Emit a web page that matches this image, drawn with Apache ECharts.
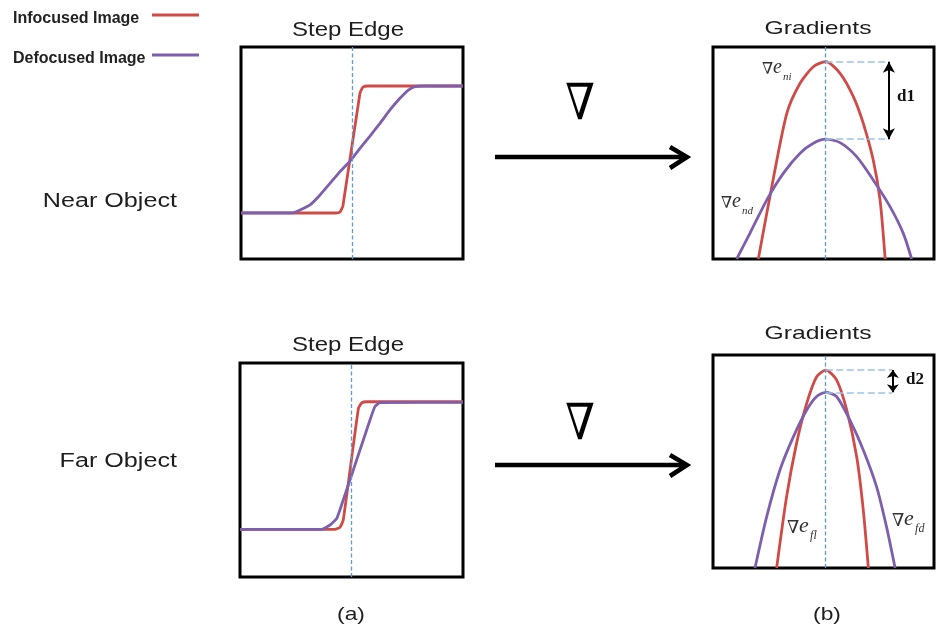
<!DOCTYPE html>
<html>
<head>
<meta charset="utf-8">
<title>Step edge and gradient profiles</title>
<script src="https://cdn.jsdelivr.net/npm/echarts@6/dist/echarts.min.js"></script>
<style>
  html, body { margin: 0; padding: 0; background: #fff; }
  #chart { width: 936px; height: 631px; }
</style>
</head>
<body>
<div id="chart"></div>
<script>
// ---- data -------------------------------------------------------------
const seriesNames = ['Infocused Image', 'Defocused Image'];
const rowLabels = ['Near Object', 'Far Object'];
const panelTitles = ['Step Edge', 'Gradients'];
const captions = ['(a)', '(b)'];
const diffLabels = ['d1', 'd2'];
const gradientSubscripts = [['ni', 'nd'], ['fl', 'fd']];

// edge position (x) on the step-edge and gradient panels
const edgeCenter = 50;
const gradCenter = 51;

// step-edge intensity profiles [position, intensity]
const nearStepInfocused = [[0, 21.7], [42.8, 21.7], [44.6, 22.2], [45.9, 25.0], [53.6, 78.3], [55.0, 81.1], [57.2, 81.6], [100, 81.6]];
const nearStepDefocused = [[0, 21.8], [23.4, 21.8], [26.6, 23.1], [31.1, 25.5], [35.6, 30.2], [40.1, 35.7], [44.6, 41.2], [49.1, 46.2], [53.6, 52.2], [58.1, 58.0], [62.6, 64.0], [67.1, 70.3], [71.6, 75.8], [75.4, 79.7], [78.4, 81.3], [82.0, 81.6], [100, 81.6]];
const farStepInfocused = [[0, 22.3], [42.6, 22.3], [44.8, 23.2], [46.3, 26.6], [53.1, 78.8], [54.6, 81.4], [56.9, 81.9], [100, 81.9]];
const farStepDefocused = [[0, 22.3], [36.6, 22.3], [40.4, 24.3], [43.4, 27.4], [46.3, 36.0], [49.3, 45.3], [52.3, 54.7], [55.3, 64.0], [58.3, 73.4], [60.5, 79.6], [62.8, 81.5], [100, 81.6]];

// gradient magnitude profiles [position, gradient]
const nearGradInfocused = [[20.5, 0], [26.6, 34.1], [33.4, 68.7], [39.4, 82.9], [45.4, 90.7], [51.0, 93.1], [57.5, 87.6], [63.5, 76.6], [68.0, 64.0], [72.5, 46.7], [75.6, 27.8], [77.9, 0]];
const nearGradDefocused = [[10.7, 0], [16.7, 12.1], [24.3, 27.8], [31.8, 40.4], [39.4, 49.9], [45.4, 54.6], [51.0, 56.5], [57.5, 54.9], [65.0, 48.3], [72.5, 37.3], [80.1, 24.7], [86.1, 12.1], [89.9, 0]];
const farGradInfocused = [[28.8, 0], [33.3, 33.5], [37.8, 58.5], [42.4, 77.3], [46.9, 89.8], [51.0, 92.9], [55.9, 88.3], [60.5, 74.2], [65.0, 52.3], [68.0, 27.2], [70.3, 0]];
const farGradDefocused = [[19.0, 0], [24.3, 24.1], [30.3, 46.0], [36.4, 61.7], [42.4, 74.2], [46.9, 80.5], [51.0, 82.5], [55.9, 80.5], [61.9, 69.5], [68.0, 55.4], [74.0, 38.2], [78.5, 19.4], [82.4, 0]];

// where the peak-difference bracket sits on each gradient panel
const bracketX = [79.6, 81.4];

// ---- styling ----------------------------------------------------------
const RED = '#d04a46';
const PURPLE = '#7e5fae';
const EDGE_BLUE = '#5b9bd5';
const GUIDE_BLUE = '#9dc3e6';
const TEXT = '#1e1e1e';

const grids = [
  { left: 241, top: 47, width: 222, height: 212 },   // near, step edge
  { left: 713, top: 47, width: 221, height: 212 },   // near, gradients
  { left: 240, top: 363, width: 223, height: 214 },  // far, step edge
  { left: 713, top: 355, width: 221, height: 213 }   // far, gradients
].map(g => Object.assign({ show: true, borderColor: '#000', borderWidth: 3, backgroundColor: '#fff' }, g));

const hiddenAxis = (gridIndex) => ({
  type: 'value', gridIndex, min: 0, max: 100, show: false,
  axisLine: { show: false }, axisTick: { show: false }, axisLabel: { show: false }, splitLine: { show: false }
});

const peak = (arr) => Math.max.apply(null, arr.map(p => p[1]));

function curve(name, data, gridIndex, color, smooth, extra) {
  return Object.assign({
    type: 'line', name, data,
    xAxisIndex: gridIndex, yAxisIndex: gridIndex,
    symbol: 'none', smooth,
    lineStyle: { color, width: 2.8 }, itemStyle: { color },
    silent: true, animation: false
  }, extra || {});
}

const centerLine = (x) => ({
  silent: true, symbol: ['none', 'none'], label: { show: false },
  lineStyle: { color: EDGE_BLUE, type: [4, 2.5], width: 1.3 },
  data: [{ xAxis: x }]
});

function guideLines(redArr, purpleArr, endX) {
  const hi = peak(redArr), lo = peak(purpleArr);
  const dash = { color: GUIDE_BLUE, type: [7, 3.5], width: 1.5 };
  return {
    silent: true, symbol: ['none', 'none'], label: { show: false },
    lineStyle: { color: EDGE_BLUE, type: [4, 2.5], width: 1.3 },
    data: [
      { xAxis: gradCenter },
      [{ coord: [gradCenter, hi], lineStyle: dash }, { coord: [endX, hi], lineStyle: dash }],
      [{ coord: [gradCenter, lo], lineStyle: dash }, { coord: [endX, lo], lineStyle: dash }]
    ]
  };
}

function bracket(redArr, purpleArr, x, size) {
  return {
    silent: true, symbol: ['arrow', 'arrow'], symbolSize: size, label: { show: false },
    lineStyle: { color: '#000', type: 'solid', width: 2 },
    data: [[{ coord: [x, peak(redArr)] }, { coord: [x, peak(purpleArr)] }]]
  };
}

const STEP_SMOOTH = 0.15;
const GRAD_SMOOTH = 0.25;

const series = [
  curve(seriesNames[0], nearStepInfocused, 0, RED, STEP_SMOOTH, { markLine: centerLine(edgeCenter) }),
  curve(seriesNames[1], nearStepDefocused, 0, PURPLE, STEP_SMOOTH),
  curve(seriesNames[0], nearGradInfocused, 1, RED, GRAD_SMOOTH, { markLine: guideLines(nearGradInfocused, nearGradDefocused, bracketX[0]) }),
  curve(seriesNames[1], nearGradDefocused, 1, PURPLE, GRAD_SMOOTH, { markLine: bracket(nearGradInfocused, nearGradDefocused, bracketX[0], [9, 11]) }),
  curve(seriesNames[0], farStepInfocused, 2, RED, STEP_SMOOTH, { markLine: centerLine(edgeCenter) }),
  curve(seriesNames[1], farStepDefocused, 2, PURPLE, STEP_SMOOTH),
  curve(seriesNames[0], farGradInfocused, 3, RED, GRAD_SMOOTH, { markLine: guideLines(farGradInfocused, farGradDefocused, bracketX[1] - 0.4) }),
  curve(seriesNames[1], farGradDefocused, 3, PURPLE, GRAD_SMOOTH, { markLine: bracket(farGradInfocused, farGradDefocused, bracketX[1], [9, 8]) })
];

// ---- text and arrows ----------------------------------------------------
function label(text, x, y, opts) {
  const o = opts || {};
  return {
    type: 'text', x, y, scaleX: o.scaleX || 1, silent: true,
    style: {
      text, fill: o.color || TEXT,
      font: (o.weight || 'normal') + ' ' + (o.size || 19) + 'px ' + (o.family || '"Liberation Sans", Arial, sans-serif'),
      align: o.align || 'center', verticalAlign: 'middle'
    }
  };
}

function gradientArrow(y) {
  const x0 = 495, x1 = 687;
  return {
    type: 'group', silent: true,
    children: [
      { type: 'line', shape: { x1: x0, y1: y, x2: x1 - 2, y2: y }, style: { stroke: '#000', lineWidth: 4.5 } },
      { type: 'polyline', shape: { points: [[x1 - 17, y - 10], [x1, y], [x1 - 17, y + 11]] },
        style: { stroke: '#000', fill: null, lineWidth: 4.5, lineJoin: 'miter' } }
    ]
  };
}

function gradSymbol(x, y, sub, s) {
  const k = s || 1;
  return {
    type: 'group', x, y, scaleX: k, scaleY: k, silent: true,
    children: [
      { type: 'text', x: 0, y: 0, style: { text: '∇', font: '16px "DejaVu Serif", serif', fill: '#333', align: 'left', verticalAlign: 'middle' } },
      { type: 'text', x: 11, y: -2, style: { text: 'e', font: 'italic 20px "Liberation Serif", serif', fill: '#333', align: 'left', verticalAlign: 'middle' } },
      { type: 'text', x: 21, y: 7, style: { text: sub, font: 'italic 11px "Liberation Serif", serif', fill: '#333', align: 'left', verticalAlign: 'middle' } }
    ]
  };
}

const graphic = [
  label(panelTitles[0], 348, 30, { size: 20, scaleX: 1.2 }),
  label(panelTitles[1], 818, 29, { size: 19, scaleX: 1.3 }),
  label(panelTitles[0], 348, 345, { size: 20, scaleX: 1.2 }),
  label(panelTitles[1], 818, 334, { size: 19, scaleX: 1.3 }),
  label(rowLabels[0], 177, 202, { size: 19.5, scaleX: 1.29, align: 'right' }),
  label(rowLabels[1], 177, 462, { size: 19.5, scaleX: 1.29, align: 'right' }),
  label(captions[0], 351, 615, { size: 19, scaleX: 1.2 }),
  label(captions[1], 827, 615, { size: 19, scaleX: 1.2 }),
  label('∇', 580, 106, { size: 50, scaleX: 0.85, family: '"DejaVu Serif", serif', color: '#000' }),
  label('∇', 580, 426, { size: 50, scaleX: 0.85, family: '"DejaVu Serif", serif', color: '#000' }),
  gradientArrow(157),
  gradientArrow(465),
  label(diffLabels[0], 897, 97, { size: 17, weight: 'bold', family: '"Liberation Serif", serif', align: 'left', color: '#111' }),
  label(diffLabels[1], 906, 380, { size: 17, weight: 'bold', family: '"Liberation Serif", serif', align: 'left', color: '#111' }),
  gradSymbol(762, 70, gradientSubscripts[0][0]),
  gradSymbol(721, 204, gradientSubscripts[0][1]),
  gradSymbol(787, 528, gradientSubscripts[1][0], 1.1),
  gradSymbol(892, 521, gradientSubscripts[1][1], 1.1)
];

const chart = echarts.init(document.getElementById('chart'), null, { renderer: 'canvas' });
chart.setOption({
  backgroundColor: '#fff',
  animation: false,
  legend: {
    orient: 'vertical', left: 8, top: 6, align: 'right',
    icon: 'rect', itemWidth: 47, itemHeight: 3, itemGap: 24, selectedMode: false,
    data: seriesNames,
    formatter: (n) => '{t|' + n + '}',
    textStyle: {
      rich: {
        t: { width: 134, align: 'left', fontFamily: '"Liberation Sans", Arial, sans-serif', fontWeight: 'bold', fontSize: 16, color: '#222', padding: [8, 0, 0, 0] }
      }
    }
  },
  grid: grids,
  xAxis: grids.map((g, i) => hiddenAxis(i)),
  yAxis: grids.map((g, i) => hiddenAxis(i)),
  series,
  graphic
});
</script>
</body>
</html>
